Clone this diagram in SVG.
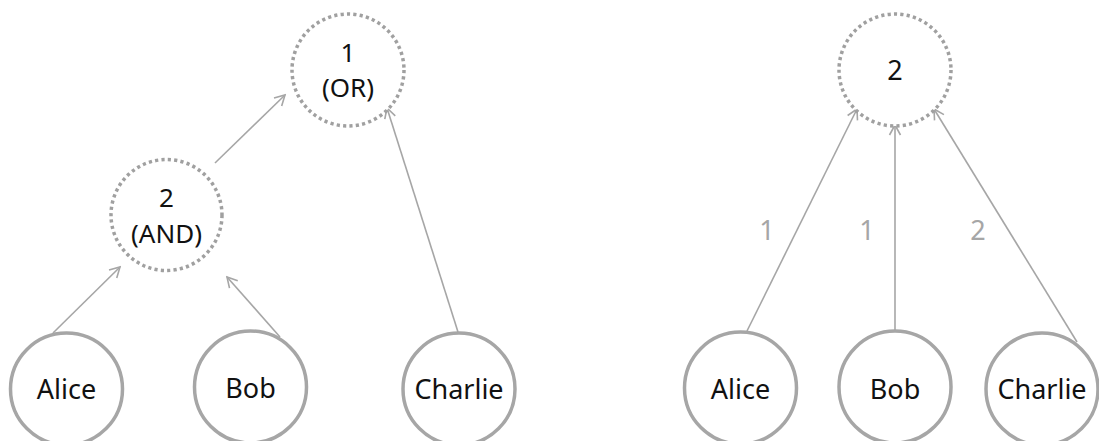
<svg xmlns="http://www.w3.org/2000/svg" width="1099" height="441" viewBox="0 0 1099 441">
<style>
.node{fill:#fff;stroke:#a6a6a6;stroke-width:3.5}
.gate{fill:#fff;stroke:#a0a0a0;stroke-width:3.5;stroke-dasharray:3.2 3.2}
.t{font-family:"Noto Sans","Open Sans",sans-serif;font-size:27px;fill:#111;text-anchor:middle}
.t2{font-family:"Noto Sans","Open Sans",sans-serif;font-size:26px;fill:#111;text-anchor:middle}
.el{font-family:"Noto Sans","Open Sans",sans-serif;font-size:27px;fill:#a6a6a6;text-anchor:middle}
.edge{stroke:#a6a6a6;stroke-width:1.6;fill:none;marker-end:url(#arr)}
</style>
<defs>
<marker id="arr" markerUnits="userSpaceOnUse" markerWidth="14" markerHeight="14" viewBox="-12 -7 14 14" refX="0" refY="0" orient="auto">
<path d="M-10,-5.5 L0,0 L-10,5.5" fill="none" stroke="#a6a6a6" stroke-width="1.6"/>
</marker>
</defs>
<rect width="1099" height="441" fill="#fff"/>
<g id="connectors">
<line class="edge" x1="53" y1="333" x2="120" y2="267"/>
<line class="edge" x1="280" y1="337" x2="227" y2="277"/>
<line class="edge" x1="215" y1="163" x2="285" y2="95"/>
<line class="edge" x1="458" y1="332" x2="387" y2="108"/>
<line class="edge" x1="747" y1="331" x2="857" y2="109"/>
<line class="edge" x1="895" y1="331" x2="895" y2="125"/>
<line class="edge" x1="1077" y1="342" x2="934" y2="109"/>
<text class="el" x="767" y="240">1</text>
<text class="el" x="867" y="240">1</text>
<text class="el" x="978" y="240">2</text>
</g>
<g id="or1">
<circle class="gate" cx="348" cy="70" r="56"/>
<text class="t2" x="348" y="62">1</text>
<text class="t2" x="348" y="97">(OR)</text>
</g>
<g id="and2">
<circle class="gate" cx="166.5" cy="215" r="55.5"/>
<text class="t2" x="166.5" y="207">2</text>
<text class="t2" x="166.5" y="243">(AND)</text>
</g>
<g id="alice1">
<circle class="node" cx="66.5" cy="389" r="56"/>
<text class="t" x="66.5" y="399">Alice</text>
</g>
<g id="bob1">
<circle class="node" cx="250.5" cy="387" r="56"/>
<text class="t" x="250.5" y="398">Bob</text>
</g>
<g id="charlie1">
<circle class="node" cx="459" cy="389" r="56"/>
<text class="t" x="459" y="399">Charlie</text>
</g>
<g id="thr2">
<circle class="gate" cx="895" cy="70" r="56"/>
<text class="t" x="895" y="80">2</text>
</g>
<g id="alice2">
<circle class="node" cx="740.5" cy="388" r="56"/>
<text class="t" x="740.5" y="399">Alice</text>
</g>
<g id="bob2">
<circle class="node" cx="895" cy="387" r="56"/>
<text class="t" x="895" y="399">Bob</text>
</g>
<g id="charlie2">
<circle class="node" cx="1042" cy="389" r="56"/>
<text class="t" x="1042" y="399">Charlie</text>
</g>
</svg>
